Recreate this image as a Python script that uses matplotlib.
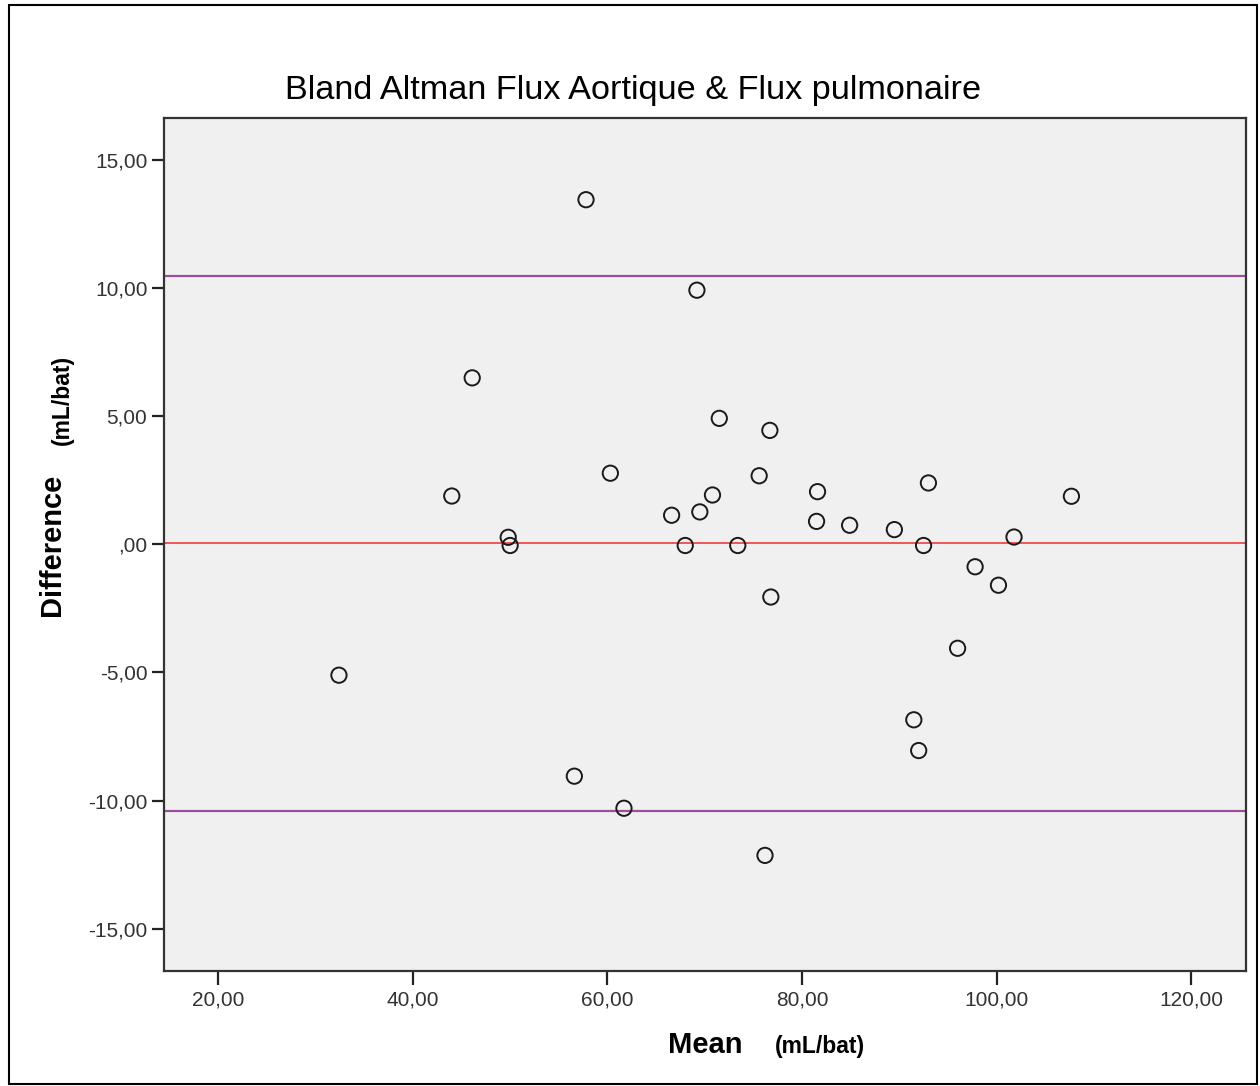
import matplotlib
matplotlib.use("Agg")
import matplotlib.pyplot as plt
from matplotlib.patches import Rectangle

# Bland-Altman data (mean, difference) in mL/bat
mean_vals = [32.4, 44.0, 46.1, 49.8, 50.0, 56.6, 57.8, 60.3, 61.7, 66.6,
             68.0, 69.2, 69.5, 70.8, 71.5, 73.4, 75.6, 76.7, 76.8, 76.2,
             81.6, 81.5, 84.9, 89.5, 91.5, 92.0, 92.5, 93.0, 96.0, 97.8,
             100.2, 101.8, 107.7]
diff_vals = [-5.11, 1.88, 6.49, 0.27, -0.05, -9.05, 13.44, 2.77, -10.3, 1.13,
             -0.05, 9.91, 1.26, 1.92, 4.91, -0.05, 2.67, 4.44, -2.06, -12.14,
             2.05, 0.89, 0.74, 0.57, -6.85, -8.05, -0.05, 2.39, -4.06, -0.88,
             -1.6, 0.28, 1.87]

bias = 0.04
upper_loa = 10.47
lower_loa = -10.39

xticks = [20, 40, 60, 80, 100, 120]
xtick_labels = ["20,00", "40,00", "60,00", "80,00", "100,00", "120,00"]
yticks = [15, 10, 5, 0, -5, -10, -15]
ytick_labels = ["15,00", "10,00", "5,00", ",00", "-5,00", "-10,00", "-15,00"]

plt.rcParams['font.family'] = ['Liberation Sans', 'DejaVu Sans']

fig = plt.figure(figsize=(12.6, 10.86), dpi=100)
ax = fig.add_axes([0.1302, 0.1059, 0.8587, 0.7855])
ax.set_facecolor('#f0f0f0')

ax.axhline(upper_loa, color='#9a4f9e', lw=1.6, zorder=2)
ax.axhline(lower_loa, color='#9a4f9e', lw=1.6, zorder=2)
ax.axhline(bias, color='#ee3b3b', lw=1.2, zorder=2)

ax.scatter(mean_vals, diff_vals, s=11**2, facecolors='none',
           edgecolors='#1a1a1a', linewidths=1.4, zorder=3)

ax.set_xlim(14.42, 125.65)
ax.set_ylim(-16.65, 16.63)
ax.set_xticks(xticks)
ax.set_xticklabels(xtick_labels)
ax.set_yticks(yticks)
ax.set_yticklabels(ytick_labels)
ax.tick_params(axis='both', labelsize=15, colors='#222222', labelcolor='#333333',
               width=1.6, direction='out')
ax.tick_params(axis='x', length=10, pad=4)
ax.tick_params(axis='y', length=9, pad=3)
for sp in ax.spines.values():
    sp.set_color('#333333')
    sp.set_linewidth(1.6)

# title and axis labels placed as in the original SPSS output
fig.text(0.5025, 0.917, "Bland Altman Flux Aortique & Flux pulmonaire",
         ha='center', va='center', fontsize=24.7, color='black')
fig.text(0.5595, 0.0378, "Mean", ha='center', va='center', fontsize=21,
         fontweight='bold', color='black')
fig.text(0.651, 0.0362, "(mL/bat)", ha='center', va='center', fontsize=16.5,
         fontweight='bold', color='black')
fig.text(0.0413, 0.498, "Difference", ha='center', va='center', fontsize=21,
         fontweight='bold', rotation=90, color='black')
fig.text(0.0492, 0.6317, "(mL/bat)", ha='center', va='center', fontsize=16.5,
         fontweight='bold', rotation=90, color='black')

# outer frame around the whole chart
fig.patches.append(Rectangle((0.0071, 0.002), 0.9905, 0.993, transform=fig.transFigure,
                             fill=False, edgecolor='black', lw=1.5))

fig.savefig("out.png", dpi=100)
